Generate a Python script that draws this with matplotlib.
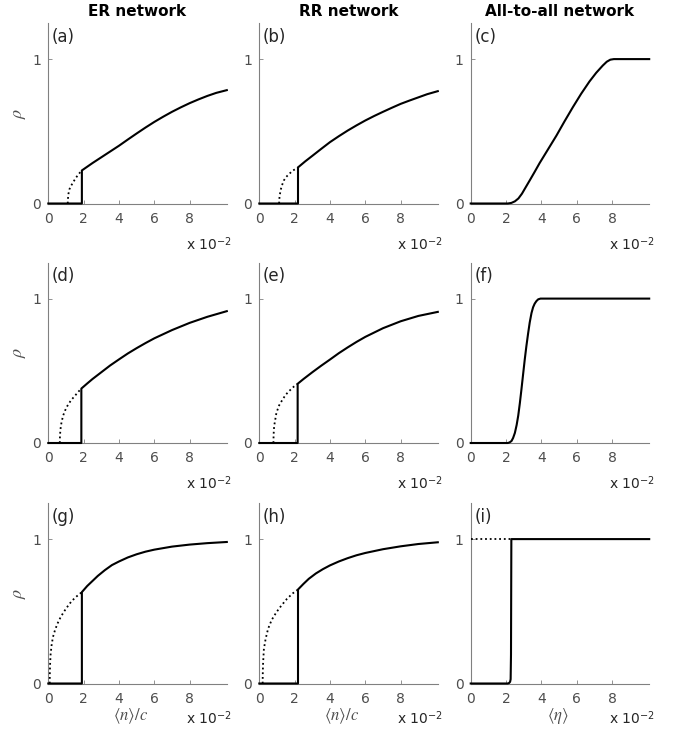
import matplotlib
matplotlib.use("Agg")
from matplotlib import pyplot as plt

plt.rcParams['mathtext.fontset'] = 'stix'

# x values are in units of 10^-2 (as on the axes)
col_titles = ["ER network", "RR network", "All-to-all network"]
panel_tags = ["(a)", "(b)", "(c)", "(d)", "(e)", "(f)", "(g)", "(h)", "(i)"]
x_ticks = [0, 2, 4, 6, 8]
y_ticks = [0, 1]

# (a) ER
a_jump = 1.9
a_up_x = [1.9, 2.5, 3, 3.5, 4, 4.5, 5, 5.5, 6, 6.5, 7, 7.5, 8, 8.5, 9, 9.5, 10.1]
a_up_y = [0.229, 0.28, 0.32, 0.36, 0.40, 0.443, 0.485, 0.526, 0.565, 0.601, 0.635,
          0.666, 0.695, 0.721, 0.745, 0.766, 0.785]
a_dot_x = [1.10, 1.11, 1.14, 1.2, 1.3, 1.42, 1.52, 1.66, 1.81, 1.9]
a_dot_y = [0, 0.03, 0.067, 0.1, 0.125, 0.15, 0.17, 0.195, 0.217, 0.229]

# (b) RR
b_jump = 2.19
b_up_x = [2.19, 2.6, 3, 3.5, 4, 4.5, 5, 5.5, 6, 6.5, 7, 7.5, 8, 8.5, 9, 9.5, 10.1]
b_up_y = [0.25, 0.292, 0.33, 0.378, 0.425, 0.466, 0.505, 0.541, 0.575, 0.606, 0.635,
          0.663, 0.69, 0.713, 0.735, 0.757, 0.778]
b_dot_x = [1.12, 1.14, 1.2, 1.28, 1.39, 1.53, 1.69, 1.9, 2.19]
b_dot_y = [0, 0.04, 0.09, 0.125, 0.16, 0.185, 0.205, 0.228, 0.25]

# (c) all-to-all
c_x = [0, 2.1, 2.3, 2.5, 2.7, 2.9, 3.1, 3.34, 3.6, 3.9, 4.4, 4.85, 5.3, 5.78, 6.25,
       6.72, 7.1, 7.47, 7.7, 7.9, 8.1, 10.1]
c_y = [0, 0, 0.004, 0.015, 0.035, 0.068, 0.11, 0.16, 0.215, 0.28, 0.38, 0.47, 0.567,
       0.667, 0.76, 0.845, 0.905, 0.955, 0.982, 0.996, 1.0, 1.0]

# (d) ER
d_jump = 1.87
d_up_x = [1.87, 2.2, 2.5, 3, 3.5, 4, 4.5, 5, 5.5, 6, 7, 8, 9, 10.1]
d_up_y = [0.377, 0.412, 0.443, 0.49, 0.537, 0.579, 0.62, 0.657, 0.692, 0.725, 0.782,
          0.832, 0.874, 0.913]
d_dot_x = [0.65, 0.66, 0.69, 0.75, 0.84, 0.95, 1.08, 1.28, 1.5, 1.7, 1.87]
d_dot_y = [0, 0.05, 0.097, 0.145, 0.19, 0.225, 0.257, 0.295, 0.326, 0.355, 0.377]

# (e) RR
e_jump = 2.17
e_up_x = [2.17, 2.5, 3, 3.5, 4, 4.5, 5, 5.5, 6, 7, 8, 9, 10.1]
e_up_y = [0.41, 0.443, 0.49, 0.535, 0.578, 0.622, 0.662, 0.7, 0.735, 0.795, 0.843,
          0.88, 0.908]
e_dot_x = [0.80, 0.81, 0.84, 0.97, 1.12, 1.31, 1.5, 1.69, 1.95, 2.17]
e_dot_y = [0, 0.06, 0.117, 0.21, 0.26, 0.30, 0.335, 0.36, 0.39, 0.41]

# (f) all-to-all
f_x = [0, 2.1, 2.2, 2.31, 2.4, 2.5, 2.6, 2.69, 2.78, 2.87, 2.96, 3.06, 3.15, 3.25,
       3.34, 3.44, 3.53, 3.62, 3.72, 3.82, 3.95, 10.1]
f_y = [0, 0, 0.004, 0.014, 0.035, 0.07, 0.125, 0.19, 0.275, 0.37, 0.47, 0.58, 0.67,
       0.76, 0.835, 0.9, 0.94, 0.965, 0.983, 0.995, 1.0, 1.0]

# (g) ER
g_jump = 1.9
g_up_x = [1.9, 2.2, 2.5, 2.8, 3.2, 3.6, 4, 4.5, 5, 5.5, 6, 7, 8, 9, 10.1]
g_up_y = [0.633, 0.675, 0.71, 0.745, 0.785, 0.82, 0.845, 0.873, 0.895, 0.913, 0.927,
          0.948, 0.962, 0.972, 0.98]
g_dot_x = [0.08, 0.085, 0.1, 0.13, 0.18, 0.26, 0.38, 0.52, 0.7, 0.9, 1.1, 1.33, 1.6, 1.9]
g_dot_y = [0, 0.06, 0.13, 0.2, 0.26, 0.32, 0.37, 0.415, 0.46, 0.5, 0.535, 0.572, 0.603,
           0.633]

# (h) RR
h_jump = 2.19
h_up_x = [2.19, 2.5, 2.8, 3.2, 3.6, 4, 4.5, 5, 5.5, 6, 7, 8, 9, 10.1]
h_up_y = [0.651, 0.69, 0.725, 0.762, 0.792, 0.818, 0.845, 0.868, 0.888, 0.904, 0.93,
          0.95, 0.966, 0.978]
h_dot_x = [0.19, 0.195, 0.21, 0.26, 0.36, 0.5, 0.7, 0.97, 1.25, 1.57, 1.9, 2.19]
h_dot_y = [0, 0.06, 0.13, 0.24, 0.31, 0.38, 0.44, 0.494, 0.54, 0.587, 0.625, 0.651]

# (i) all-to-all
i_x = [0, 2.1, 2.18, 2.23, 2.26, 2.28, 2.29, 2.3, 10.1]
i_y = [0, 0, 0.004, 0.012, 0.03, 0.2, 0.6, 1, 1]
i_dot_x = [0, 2.3]
i_dot_y = [1, 1]

spine_c = '#808080'
label_c = '#4d4d4d'

W, H = 674, 739
lefts = [48.3, 259.3, 470.7]
tops = [23, 262.5, 503]
aw, ah = 178.5, 180.5

fig = plt.figure(figsize=(W / 100, H / 100), dpi=100)
axes = []
for r in range(3):
    for c in range(3):
        ax = fig.add_axes([lefts[c] / W, 1 - (tops[r] + ah) / H, aw / W, ah / H])
        axes.append(ax)


def network_panel(ax, jump, up_x, up_y, dot_x, dot_y):
    ax.plot(dot_x, dot_y, color='k', lw=1.3, ls=(0, (1, 1.6)), clip_on=False)
    ax.plot([0, jump] + up_x, [0, 0] + up_y, color='k', lw=1.5, clip_on=False)


network_panel(axes[0], a_jump, a_up_x, a_up_y, a_dot_x, a_dot_y)
network_panel(axes[1], b_jump, b_up_x, b_up_y, b_dot_x, b_dot_y)
axes[2].plot(c_x, c_y, color='k', lw=1.5, clip_on=False)
network_panel(axes[3], d_jump, d_up_x, d_up_y, d_dot_x, d_dot_y)
network_panel(axes[4], e_jump, e_up_x, e_up_y, e_dot_x, e_dot_y)
axes[5].plot(f_x, f_y, color='k', lw=1.5, clip_on=False)
network_panel(axes[6], g_jump, g_up_x, g_up_y, g_dot_x, g_dot_y)
network_panel(axes[7], h_jump, h_up_x, h_up_y, h_dot_x, h_dot_y)
axes[8].plot(i_dot_x, i_dot_y, color='k', lw=1.3, ls=(0, (1, 1.6)), clip_on=False)
axes[8].plot(i_x, i_y, color='k', lw=1.5, clip_on=False)

for k, ax in enumerate(axes):
    r, c = divmod(k, 3)
    ax.set_xlim(0, 10.1)
    ax.set_ylim(0, 1.25)
    ax.set_xticks(x_ticks)
    ax.set_yticks(y_ticks)
    ax.spines['top'].set_visible(False)
    ax.spines['right'].set_visible(False)
    for s in ['left', 'bottom']:
        ax.spines[s].set_color(spine_c)
        ax.spines[s].set_linewidth(0.8)
        ax.spines[s].set_zorder(1)
    ax.tick_params(direction='in', length=3, width=0.6, colors=spine_c,
                   labelcolor=label_c, labelsize=10)
    ax.tick_params(axis='x', pad=6)
    ax.tick_params(axis='y', pad=5)
    ax.text(0.02, 0.975, panel_tags[k], transform=ax.transAxes, ha='left', va='top',
            fontsize=12, color='#262626')
    ax.text(1.03, -0.255 if r < 2 else -0.222, r'x 10$^{\mathregular{-2}}$',
            transform=ax.transAxes, ha='right', va='baseline', fontsize=10, color='#262626')
    if r == 0:
        ax.set_title(col_titles[c], fontsize=11, fontweight='bold', pad=5)
    if c == 0:
        ax.set_ylabel(r'$\rho$', fontsize=13, color=label_c)
        ax.yaxis.set_label_coords(-0.115, 0.5)
    if r == 2:
        if c < 2:
            ax.set_xlabel(r'$\langle n\rangle/c$', fontsize=12, color=label_c)
            ax.xaxis.set_label_coords(0.46, -0.125)
        else:
            ax.set_xlabel(r'$\langle \eta\rangle$', fontsize=12, color=label_c)
            ax.xaxis.set_label_coords(0.49, -0.125)

fig.savefig("out.png", dpi=100)
